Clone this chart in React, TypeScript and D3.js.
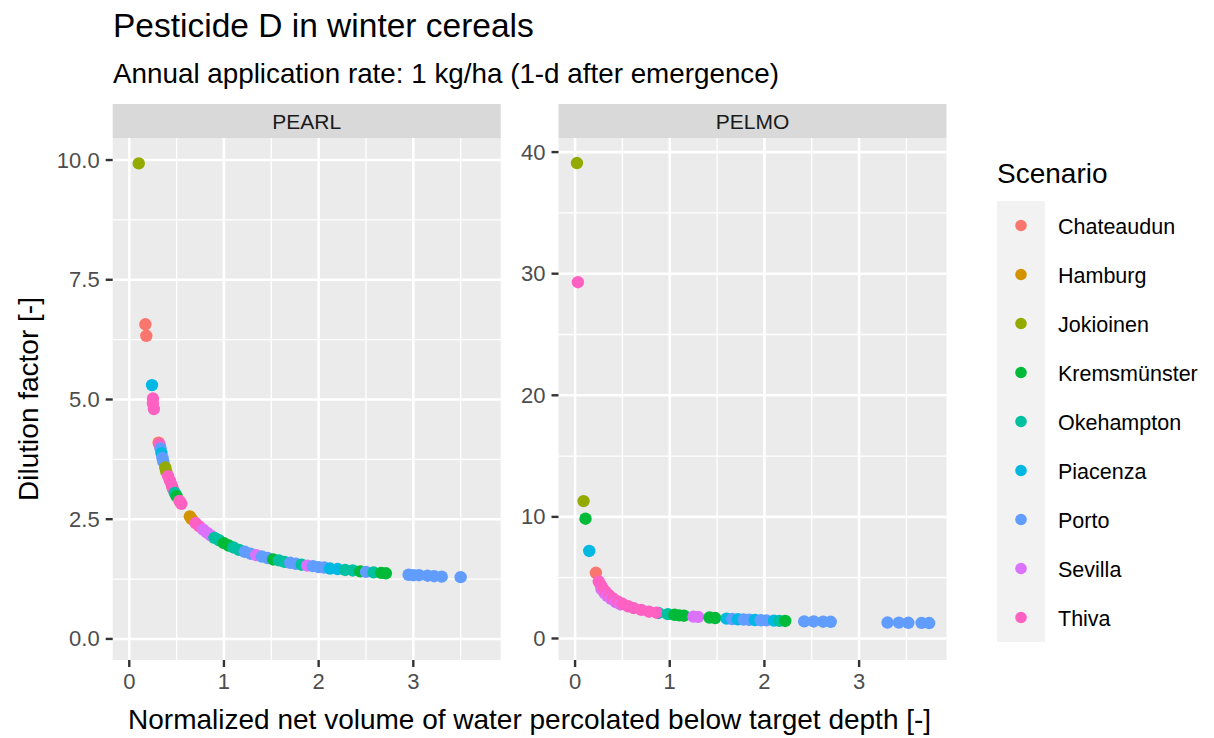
import React from "react";
import * as d3 from "d3";

// scenario names + ggplot default hue palette
const scenarios = ["Chateaudun", "Hamburg", "Jokioinen", "Kremsmünster", "Okehampton", "Piacenza", "Porto", "Sevilla", "Thiva"];
const scenarioColors = ["#F8766D", "#D39200", "#93AA00", "#00BA38", "#00C19F", "#00B9E3", "#619CFF", "#DB72FB", "#FF61C3"];

// [scenario, normalized percolation volume, dilution factor]
const pearlData: [string, number, number][] = [
  ["Jokioinen", 0.10, 9.93],
  ["Chateaudun", 0.17, 6.57], ["Chateaudun", 0.18, 6.33],
  ["Piacenza", 0.24, 5.30],
  ["Thiva", 0.25, 5.02], ["Thiva", 0.25, 4.92], ["Thiva", 0.26, 4.80],
  ["Chateaudun", 0.31, 4.10], ["Thiva", 0.32, 4.06],
  ["Porto", 0.33, 3.98], ["Piacenza", 0.34, 3.88], ["Porto", 0.35, 3.78], ["Porto", 0.36, 3.70],
  ["Jokioinen", 0.38, 3.58], ["Jokioinen", 0.39, 3.50],
  ["Thiva", 0.41, 3.40], ["Thiva", 0.43, 3.30], ["Thiva", 0.45, 3.20], ["Thiva", 0.46, 3.14],
  ["Okehampton", 0.48, 3.05], ["Kremsmünster", 0.50, 2.98],
  ["Thiva", 0.53, 2.88], ["Thiva", 0.55, 2.82],
  ["Hamburg", 0.64, 2.56], ["Hamburg", 0.66, 2.50],
  ["Thiva", 0.70, 2.42], ["Thiva", 0.74, 2.35],
  ["Sevilla", 0.78, 2.28], ["Sevilla", 0.82, 2.22], ["Sevilla", 0.86, 2.16],
  ["Okehampton", 0.90, 2.11], ["Okehampton", 0.95, 2.06],
  ["Kremsmünster", 1.00, 2.00], ["Kremsmünster", 1.05, 1.95],
  ["Okehampton", 1.10, 1.91], ["Okehampton", 1.16, 1.86],
  ["Porto", 1.22, 1.82], ["Porto", 1.28, 1.78], ["Sevilla", 1.34, 1.75],
  ["Porto", 1.40, 1.72], ["Porto", 1.46, 1.69], ["Kremsmünster", 1.52, 1.66],
  ["Okehampton", 1.58, 1.64], ["Okehampton", 1.64, 1.61],
  ["Porto", 1.70, 1.59], ["Porto", 1.76, 1.57], ["Okehampton", 1.82, 1.55], ["Sevilla", 1.88, 1.53],
  ["Porto", 1.94, 1.52], ["Porto", 2.00, 1.50], ["Porto", 2.06, 1.49],
  ["Piacenza", 2.12, 1.47], ["Piacenza", 2.20, 1.46],
  ["Okehampton", 2.28, 1.44], ["Okehampton", 2.36, 1.43], ["Kremsmünster", 2.44, 1.41],
  ["Porto", 2.50, 1.40], ["Okehampton", 2.58, 1.39],
  ["Kremsmünster", 2.66, 1.38], ["Kremsmünster", 2.71, 1.37],
  ["Porto", 2.95, 1.34], ["Porto", 3.00, 1.33], ["Porto", 3.06, 1.33], ["Porto", 3.15, 1.32],
  ["Porto", 3.22, 1.31], ["Porto", 3.30, 1.30], ["Porto", 3.50, 1.29],
];

const pelmoData: [string, number, number][] = [
  ["Jokioinen", 0.02, 39.1], ["Thiva", 0.03, 29.3],
  ["Jokioinen", 0.09, 11.3], ["Kremsmünster", 0.11, 9.85],
  ["Piacenza", 0.15, 7.2], ["Chateaudun", 0.22, 5.4],
  ["Thiva", 0.25, 4.7], ["Thiva", 0.27, 4.4], ["Sevilla", 0.28, 4.05], ["Thiva", 0.29, 4.15],
  ["Sevilla", 0.31, 3.75], ["Thiva", 0.32, 3.85], ["Sevilla", 0.34, 3.5], ["Thiva", 0.36, 3.55],
  ["Sevilla", 0.38, 3.25], ["Thiva", 0.40, 3.3], ["Sevilla", 0.43, 3.0], ["Thiva", 0.45, 3.05],
  ["Sevilla", 0.48, 2.8], ["Thiva", 0.50, 2.85], ["Thiva", 0.56, 2.65], ["Thiva", 0.62, 2.5],
  ["Thiva", 0.70, 2.35], ["Thiva", 0.78, 2.2],
  ["Okehampton", 0.88, 2.1], ["Thiva", 0.86, 2.12], ["Okehampton", 0.98, 2.0],
  ["Kremsmünster", 1.05, 1.95], ["Kremsmünster", 1.10, 1.9], ["Kremsmünster", 1.15, 1.87],
  ["Sevilla", 1.25, 1.8], ["Sevilla", 1.30, 1.78],
  ["Kremsmünster", 1.42, 1.72], ["Kremsmünster", 1.48, 1.68],
  ["Piacenza", 1.60, 1.63], ["Porto", 1.66, 1.6], ["Piacenza", 1.72, 1.58], ["Porto", 1.78, 1.56],
  ["Porto", 1.84, 1.54], ["Piacenza", 1.90, 1.52], ["Porto", 1.96, 1.5], ["Porto", 2.02, 1.49],
  ["Piacenza", 2.10, 1.47], ["Okehampton", 2.16, 1.45], ["Kremsmünster", 2.22, 1.44],
  ["Porto", 2.42, 1.41], ["Porto", 2.52, 1.40], ["Porto", 2.62, 1.38], ["Porto", 2.70, 1.37],
  ["Porto", 3.30, 1.31], ["Porto", 3.42, 1.30], ["Porto", 3.52, 1.29], ["Porto", 3.66, 1.28], ["Porto", 3.74, 1.27],
];

const xTicks = [0, 1, 2, 3];
const pearlYTicks = [0, 2.5, 5, 7.5, 10];
const pelmoYTicks = [0, 10, 20, 30, 40];

// shared x scale, free y scales
const xDomain = [-0.175, 3.923];
const pearlYDomain = [-0.44, 10.46];
const pelmoYDomain = [-1.77, 41.16];

const font = "'Liberation Sans', Arial, Helvetica, sans-serif";
const panelTop = 138;
const panelBottom = 660;
const panelW = 388;
const stripH = 34;

const color = d3.scaleOrdinal<string, string>().domain(scenarios).range(scenarioColors);

type PanelProps = {
  left: number;
  label: string;
  data: [string, number, number][];
  yDomain: number[];
  yTicks: number[];
  yFmt: (d: number) => string;
};

const Panel = ({ left, label, data, yDomain, yTicks, yFmt }: PanelProps) => {
  const x = d3.scaleLinear().domain(xDomain).range([left, left + panelW]);
  const y = d3.scaleLinear().domain(yDomain).range([panelBottom, panelTop]);
  const step = yTicks[1] - yTicks[0];
  const yMinor = yTicks.map((t) => t + step / 2).filter((t) => t < yDomain[1]);
  const xMinor = xTicks.map((t) => t + 0.5).filter((t) => t < xDomain[1]);

  return (
    <g>
      {/* strip */}
      <rect x={left} y={panelTop - stripH} width={panelW} height={stripH} fill="#D9D9D9" />
      <text x={left + panelW / 2} y={panelTop - stripH / 2 + 7.5} textAnchor="middle" fontSize={21} fill="#1A1A1A">{label}</text>

      {/* panel background + grid */}
      <rect x={left} y={panelTop} width={panelW} height={panelBottom - panelTop} fill="#EBEBEB" />
      {yMinor.map((t) => (
        <line key={"ym" + t} x1={left} x2={left + panelW} y1={y(t)} y2={y(t)} stroke="#fff" strokeWidth={1.3} />
      ))}
      {xMinor.map((t) => (
        <line key={"xm" + t} x1={x(t)} x2={x(t)} y1={panelTop} y2={panelBottom} stroke="#fff" strokeWidth={1.3} />
      ))}
      {yTicks.map((t) => (
        <line key={"y" + t} x1={left} x2={left + panelW} y1={y(t)} y2={y(t)} stroke="#fff" strokeWidth={2.6} />
      ))}
      {xTicks.map((t) => (
        <line key={"x" + t} x1={x(t)} x2={x(t)} y1={panelTop} y2={panelBottom} stroke="#fff" strokeWidth={2.6} />
      ))}

      {/* points */}
      {data.map((d, i) => (
        <circle key={i} cx={x(d[1])} cy={y(d[2])} r={6.2} fill={color(d[0])} />
      ))}

      {/* y axis */}
      {yTicks.map((t) => (
        <g key={"yt" + t}>
          <line x1={left - 7} x2={left} y1={y(t)} y2={y(t)} stroke="#333" strokeWidth={2.4} />
          <text x={left - 13} y={y(t) + 7.5} textAnchor="end" fontSize={22} fill="#4D4D4D">{yFmt(t)}</text>
        </g>
      ))}

      {/* x axis */}
      {xTicks.map((t) => (
        <g key={"xt" + t}>
          <line x1={x(t)} x2={x(t)} y1={panelBottom} y2={panelBottom + 7} stroke="#333" strokeWidth={2.4} />
          <text x={x(t)} y={panelBottom + 29} textAnchor="middle" fontSize={22} fill="#4D4D4D">{String(t)}</text>
        </g>
      ))}
    </g>
  );
};

export default function App() {
  const legendTop = 201;
  const keyH = 49;
  return (
    <svg width={1214} height={738} style={{ position: "absolute", left: 0, top: 0, background: "#fff" }} fontFamily={font}>
      <text x={113} y={37} fontSize={33.5} fill="#000">Pesticide D in winter cereals</text>
      <text x={113} y={83} fontSize={27.8} fill="#000">Annual application rate: 1 kg/ha (1-d after emergence)</text>

      <Panel left={112.7} label="PEARL" data={pearlData} yDomain={pearlYDomain} yTicks={pearlYTicks} yFmt={d3.format(".1f")} />
      <Panel left={558.5} label="PELMO" data={pelmoData} yDomain={pelmoYDomain} yTicks={pelmoYTicks} yFmt={d3.format("d")} />

      <text x={529.6} y={729} textAnchor="middle" fontSize={28} fill="#000">
        Normalized net volume of water percolated below target depth [-]
      </text>
      <text transform={`translate(38,${(panelTop + panelBottom) / 2}) rotate(-90)`} textAnchor="middle" fontSize={28} fill="#000">
        Dilution factor [-]
      </text>

      {/* legend */}
      <text x={997} y={183} fontSize={28} fill="#000">Scenario</text>
      <rect x={997} y={legendTop} width={48} height={keyH * scenarios.length} fill="#F2F2F2" />
      {scenarios.map((s, i) => (
        <g key={s}>
          <circle cx={1021} cy={legendTop + keyH / 2 + i * keyH} r={5.8} fill={color(s)} />
          <text x={1058} y={legendTop + keyH / 2 + i * keyH + 8} fontSize={21.5} fill="#000">{s}</text>
        </g>
      ))}
    </svg>
  );
}
